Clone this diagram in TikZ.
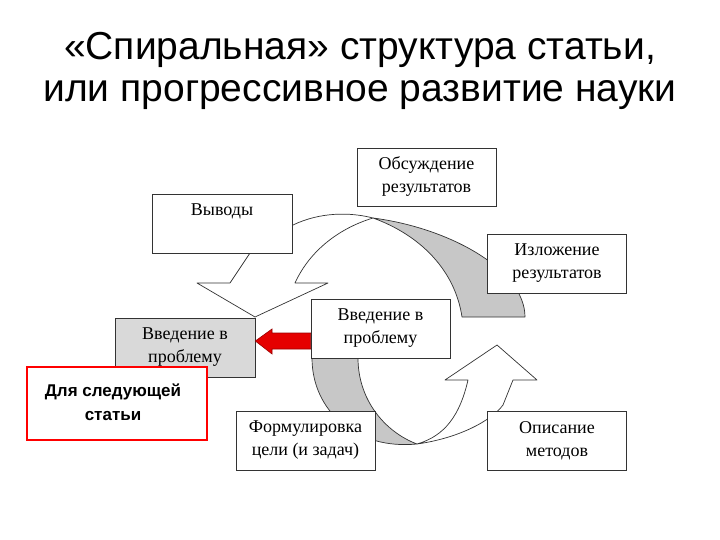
\documentclass[tikz,border=0pt]{standalone}
\usepackage{fontspec}
\setmainfont{Liberation Serif}
\newfontfamily\arialf{Liberation Sans}
\begin{document}
\begin{tikzpicture}[x=1pt,y=-1pt,
  box/.style={draw=black!80,fill=white,line width=0.7pt,minimum width=139pt,minimum height=59pt,inner sep=0pt,align=center,font=\fontsize{18}{23}\selectfont},
  band/.style={draw=black!80,line width=0.7pt,line join=round}]
\useasboundingbox (0,0) rectangle (720,540);
\node[font=\arialf\fontsize{39}{42}\selectfont,align=center] (title) at (360,71) {«Спиральная» структура статьи,\\или прогрессивное развитие науки};
% upper curved arrow
\path[band,fill=black!22] (373,218) .. controls (450,228) and (525,270) .. (525,317) -- (462,317) .. controls (455,270) and (420,235) .. (373,218) -- cycle;
\path[band,fill=white] (255,317) -- (197,283) -- (230,283) -- (250,253) -- (262,236) .. controls (275,228) and (285,228) .. (293,225) .. controls (320,212) and (350,212) .. (373,218) .. controls (340,228) and (310,250) .. (295,283) -- (328,283) -- cycle;
% lower curved arrow
\path[band,fill=black!22] (312,358) .. controls (312,410) and (355,450) .. (417,444) .. controls (385,432) and (358,400) .. (358,358) -- cycle;
\path[band,fill=white] (417,444) .. controls (460,438) and (492,420) .. (503,405) -- (513,380) -- (537,380) -- (497,345) -- (445,380) -- (468,380) .. controls (460,415) and (445,436) .. (417,444) -- cycle;
% boxes
\node[box,minimum height=58pt] (obs) at (426.5,177) {Обсуждение\\результатов};
\path[draw=black!80,line width=0.7pt,fill=white] (152,194) rectangle (292,253);
\node[font=\fontsize{18}{23}\selectfont,anchor=north] (vyv) at (222,200) {Выводы};
\node[box] (izl) at (557,263.5) {Изложение\\результатов};
\node[box] (vvr) at (380.5,328.5) {Введение в\\проблему};
\node[box,fill=black!15,minimum width=140pt] (vvl) at (185,347.5) {Введение в\\проблему};
\coordinate (rb1) at (27,367);
\coordinate (rb2) at (207,440);
\fill[white] (rb1) rectangle (rb2);
\draw[red,line width=1.5pt] (rb1) rectangle (rb2);
\node[font=\arialf\bfseries\fontsize{17}{24}\selectfont,align=center,anchor=north] (rt) at (113,380) {Для следующей\\статьи};
\node[box] (form) at (305.5,440.5) {Формулировка\\цели (и задач)};
\node[box] (opis) at (557,440.5) {Описание\\методов};
% red arrow
\draw[fill=red!90!black,draw=red!60!black,line width=0.6pt] (vvr.west |- 0,333) -- (272,333) -- (272,329) -- (vvl.east |- 0,341) -- (272,354) -- (272,349) -- (vvr.west |- 0,349) -- cycle;
\end{tikzpicture}
\end{document}
